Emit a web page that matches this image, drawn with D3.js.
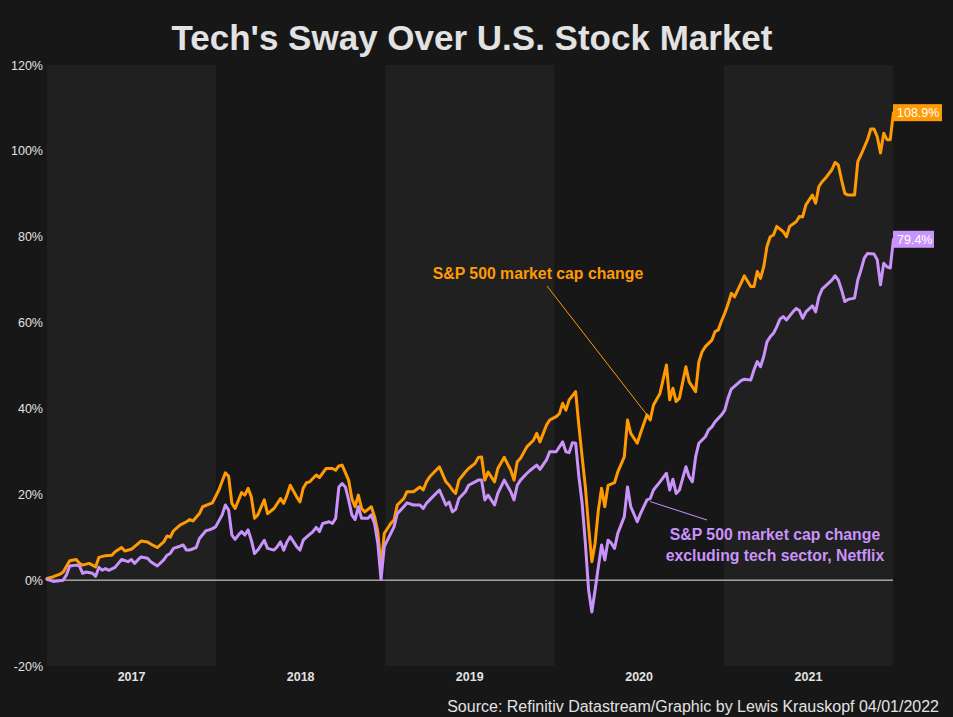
<!DOCTYPE html>
<html><head><meta charset="utf-8">
<script src="https://cdn.jsdelivr.net/npm/d3@7/dist/d3.min.js"></script>
<style>
body{margin:0;background:#171717;}
svg{display:block;font-family:"Liberation Sans",Arial,sans-serif;}
</style>
</head><body>
<script>
// ---- data ----
const startDate = new Date(2017, 0, 1);
const years = [2017, 2018, 2019, 2020, 2021];
const shadedYears = [2017, 2019, 2021];
const yTicks = [-20, 0, 20, 40, 60, 80, 100, 120];

// weeks since 2017-01-01, S&P 500 market cap change (%)
const spxWeeks = [0,2,4,5,7,9,10,11,13,14,15,16,18,20,21,23,24,26,27,29,31,32,34,36,37,38,39,41,43,44,45,47,48,50,51,53,55,56,57,58,60,61,62,63,64,65,67,68,70,72,73,74,75,77,78,79,80,81,83,84,86,88,89,90,91,93,94,95,96,97,98,100,101,102,103,104,106,107,108,110,111,113,115,116,117,118,121,123,124,125,126,127,129,130,132,133,134,135,136,138,139,141,143,144,145,146,148,150,151,152,154,155,157,158,159,160,161,163,164,165,166,167,168,169,170,171,172,173,175,176,178,179,180,182,183,185,186,187,189,191,192,193,194,195,197,198,200,201,202,203,205,206,207,208,209,210,211,212,213,214,215,217,218,219,220,221,222,223,224,225,227,228,229,231,232,233,234,236,237,238,239,240,242,243,244,245,246,247,249,250,251,253,254,255,256,257,258,259,260,261];
const spxValues = [0.4,0.8,1.4,1.9,4.5,4.8,3.9,3.5,3.9,3.5,3.1,5.3,5.7,5.8,6.6,7.6,6.8,7.2,7.8,9.1,8.9,8.4,7.6,8.9,10.3,10.0,11.5,12.8,13.6,14.1,13.8,15.5,17.1,17.7,18.0,21.0,25.0,24.2,17.9,16.7,20.4,19.8,21.4,19.4,14.4,15.2,18.7,15.5,16.7,19.0,17.9,19.8,22.1,19.4,18.2,21.4,22.7,22.9,24.5,23.9,26.0,26.0,25.6,26.6,26.8,23.3,19.0,17.1,19.8,16.7,15.9,17.1,14.8,11.3,3.0,10.9,13.2,14.0,17.5,19.0,20.6,20.6,21.7,21.0,22.9,24.1,26.4,22.9,22.1,21.0,20.2,23.3,25.2,26.0,27.2,28.6,28.7,23.3,25.2,22.9,26.0,28.6,25.6,23.3,27.6,28.4,31.1,32.6,34.2,32.2,36.1,37.3,38.1,38.8,41.2,39.6,42.0,43.9,36.0,28.7,21.7,12.4,4.3,8.6,16.3,21.4,17.1,22.1,22.7,25.2,28.7,37.3,34.2,31.9,34.2,38.5,37.3,40.8,43.5,50.1,42.0,44.7,41.6,42.4,49.7,46.2,43.9,50.9,53.2,54.4,55.9,57.9,58.3,60.4,62.2,64.3,66.8,66.0,67.6,69.2,70.9,68.4,68.4,71.9,70.3,73.0,77.7,80.0,80.4,82.4,81.2,80.0,82.4,83.5,84.7,84.6,87.4,89.7,87.8,91.7,92.8,93.6,95.6,97.3,96.7,93.2,90.1,89.7,89.7,97.5,99.1,102.6,105.1,105.1,103.3,99.5,104.1,102.6,102.6,108.9];

// weeks since 2017-01-01, S&P 500 excluding tech sector, Netflix (%)
const exWeeks = [0,2,5,6,7,9,10,11,12,14,15,16,17,18,19,21,22,23,25,26,27,28,29,31,32,34,36,37,38,39,41,42,43,44,46,47,49,50,51,52,54,55,56,57,58,59,60,61,62,63,64,65,67,68,70,71,72,73,74,75,77,78,79,80,82,83,84,85,87,88,89,90,91,92,93,94,95,96,97,99,100,101,102,103,104,106,107,108,110,111,113,115,116,117,118,121,123,124,125,126,127,129,130,132,133,134,135,136,138,139,141,143,144,145,146,148,149,151,152,154,155,157,159,160,161,162,163,164,165,166,167,168,169,170,171,172,173,174,175,176,178,179,180,182,183,185,186,187,189,191,192,193,194,195,197,198,199,200,201,203,204,205,206,208,209,210,211,214,215,217,218,219,220,221,222,223,224,225,226,227,228,230,231,232,233,234,236,237,238,239,241,242,243,244,245,246,247,249,250,251,252,253,255,256,257,258,259,260,261];
const exValues = [0.2,-0.3,0.0,1.2,3.3,3.5,3.3,1.6,1.9,1.6,0.9,3.0,2.3,2.7,2.3,3.0,3.9,4.8,4.3,4.8,3.9,4.7,5.4,5.1,4.3,3.3,4.7,5.8,6.2,7.4,7.9,8.2,7.0,7.0,7.6,9.7,11.5,11.7,12.0,12.4,15.2,17.5,16.3,10.5,9.5,10.5,11.3,10.5,11.7,9.3,6.2,7.0,9.3,7.4,7.0,7.8,8.9,7.0,8.9,10.1,7.8,7.0,9.3,10.0,11.3,12.3,11.3,13.2,13.6,13.2,14.4,21.7,22.5,21.7,18.7,15.2,14.1,17.1,14.4,14.4,15.2,13.2,8.6,0.2,7.8,10.9,12.4,15.5,17.1,18.0,17.5,17.5,16.7,17.9,18.7,21.0,17.5,18.2,15.9,16.5,19.0,20.6,22.1,22.9,23.3,23.3,18.7,19.8,17.5,20.2,23.3,20.6,18.7,22.1,23.3,24.9,25.6,26.8,25.8,28.0,29.9,29.9,32.2,29.9,29.7,32.0,31.9,24.1,17.9,8.6,-2.3,-7.4,-2.3,3.1,8.2,4.7,9.3,8.6,7.4,10.9,14.8,21.7,17.1,13.6,15.5,18.7,19.0,21.0,22.9,24.9,21.0,23.5,20.2,21.0,26.4,24.1,22.9,28.7,31.9,33.4,35.0,35.7,36.9,38.5,39.6,42.4,44.5,46.5,46.8,46.6,49.0,50.9,49.7,52.1,55.5,56.7,57.5,59.0,60.8,61.4,60.6,62.5,63.3,62.8,61.0,62.5,63.9,62.5,66.0,67.8,69.2,69.9,70.9,69.9,67.6,64.9,65.4,65.7,69.9,72.3,75.0,76.1,76.0,74.6,68.8,73.8,73.0,72.7,79.4];

const titleText = "Tech's Sway Over U.S. Stock Market";
const sourceText = "Source: Refinitiv Datastream/Graphic by Lewis Krauskopf 04/01/2022";
const spxLabel = "S&P 500 market cap change";
const exLabel = ["S&P 500 market cap change", "excluding tech sector, Netflix"];
const spxNoteWeek = 185;
const exNoteWeek = 186;

// ---- drawing ----
const W = 953, H = 717;
const margin = {left: 47, right: 60, top: 65, bottom: 51};
const orange = "#ff9a05", purple = "#c993fb";
const bg = "#171717", band = "#202020", textCol = "#e2e2e2";

const toDate = w => d3.timeDay.offset(startDate, w * 7);
const spx = spxWeeks.map((w, i) => ({date: toDate(w), v: spxValues[i]}));
const ex = exWeeks.map((w, i) => ({date: toDate(w), v: exValues[i]}));

const x = d3.scaleTime()
  .domain([new Date(2017, 0, 1), new Date(2022, 0, 1)])
  .range([margin.left, W - margin.right]);
const y = d3.scaleLinear().domain([-20, 120]).range([H - margin.bottom, margin.top]);

const svg = d3.select("body").append("svg").attr("width", W).attr("height", H);
svg.append("rect").attr("width", W).attr("height", H).attr("fill", bg);

// year bands
svg.append("g").selectAll("rect").data(shadedYears).join("rect")
  .attr("x", d => x(new Date(d, 0, 1)))
  .attr("width", d => x(new Date(d + 1, 0, 1)) - x(new Date(d, 0, 1)))
  .attr("y", y(120)).attr("height", y(-20) - y(120))
  .attr("fill", band);

// y axis
const yAxis = d3.axisLeft(y).tickValues(yTicks).tickFormat(d => d + "%").tickSize(0).tickPadding(4);
const gy = svg.append("g").attr("transform", `translate(${margin.left},0)`).call(yAxis);
gy.select(".domain").remove();
gy.selectAll("text").attr("fill", textCol).attr("font-size", 12.5)
  .attr("font-family", "'Liberation Sans',Arial,sans-serif");

// x axis labels centered in each year
const gx = svg.append("g");
gx.selectAll("text").data(years).join("text")
  .attr("x", d => (x(new Date(d, 0, 1)) + x(new Date(d + 1, 0, 1))) / 2)
  .attr("y", y(-20) + 15)
  .attr("text-anchor", "middle").attr("fill", textCol)
  .attr("font-size", 12.5).attr("font-weight", "bold")
  .text(d => d);

// zero line
svg.append("line")
  .attr("x1", x.range()[0]).attr("x2", x.range()[1])
  .attr("y1", y(0)).attr("y2", y(0))
  .attr("stroke", "#e8e8e8").attr("stroke-width", 1);

const line = d3.line().x(d => x(d.date)).y(d => y(d.v));
svg.append("path").datum(spx).attr("d", line)
  .attr("fill", "none").attr("stroke", orange).attr("stroke-width", 3)
  .attr("stroke-linejoin", "round").attr("stroke-linecap", "round");
svg.append("path").datum(ex).attr("d", line)
  .attr("fill", "none").attr("stroke", purple).attr("stroke-width", 3)
  .attr("stroke-linejoin", "round").attr("stroke-linecap", "round");

// end labels
function endLabel(last, color, w) {
  const g = svg.append("g").attr("transform", `translate(${x.range()[1]},${y(last.v)})`);
  g.append("rect").attr("x", 0).attr("y", -8.5).attr("width", w).attr("height", 17).attr("fill", color);
  g.append("text").attr("x", 4).attr("y", 4.5).attr("fill", "#fff").attr("font-size", 12.5)
    .text(last.v.toFixed(1) + "%");
}
endLabel(spx[spx.length - 1], orange, 49);
endLabel(ex[ex.length - 1], purple, 41);

// annotations
const spxPt = spx.find(d => +d.date === +toDate(spxNoteWeek));
svg.append("line")
  .attr("x1", 547).attr("y1", 286)
  .attr("x2", x(spxPt.date)).attr("y2", y(spxPt.v))
  .attr("stroke", orange).attr("stroke-width", 1);
svg.append("text").attr("x", 538).attr("y", 279).attr("text-anchor", "middle")
  .attr("fill", orange).attr("font-size", 15.8).attr("font-weight", "bold").text(spxLabel);

const exPt = ex.find(d => +d.date === +toDate(exNoteWeek));
svg.append("line")
  .attr("x1", x(exPt.date)).attr("y1", y(exPt.v) + 3)
  .attr("x2", 707).attr("y2", 520)
  .attr("stroke", purple).attr("stroke-width", 1);
svg.append("text").attr("x", 775).attr("y", 540).attr("text-anchor", "middle")
  .attr("fill", purple).attr("font-size", 15.8).attr("font-weight", "bold")
  .selectAll("tspan").data(exLabel).join("tspan")
  .attr("x", 775).attr("dy", (d, i) => i === 0 ? 0 : 21).text(d => d);

// title & source
svg.append("text").attr("x", 472).attr("y", 50).attr("text-anchor", "middle")
  .attr("fill", textCol).attr("font-size", 35).attr("font-weight", "bold").text(titleText);
svg.append("text").attr("x", 939).attr("y", 712).attr("text-anchor", "end")
  .attr("fill", textCol).attr("font-size", 16).text(sourceText);
</script>
</body></html>
